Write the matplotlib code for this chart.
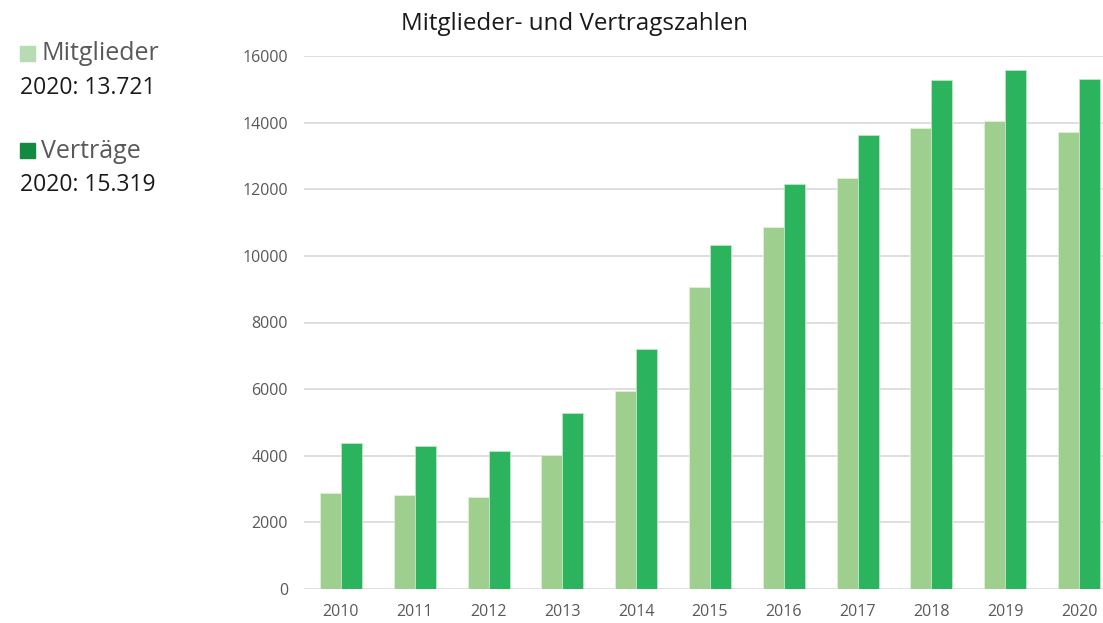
import numpy as np
import matplotlib.pyplot as plt

plt.rcParams["font.family"] = ["Open Sans", "DejaVu Sans"]

# Daten
jahre = ["2010", "2011", "2012", "2013", "2014", "2015", "2016", "2017", "2018", "2019", "2020"]
mitglieder = [2880, 2830, 2760, 4030, 5950, 9060, 10860, 12330, 13840, 14060, 13721]
vertraege = [4380, 4280, 4150, 5290, 7210, 10340, 12150, 13620, 15280, 15590, 15319]

farbe_m = "#9ecf8f"
farbe_v = "#2bb35e"
grau = "#595959"

fig = plt.figure(figsize=(11.03, 6.23), dpi=100)
ax = fig.add_axes([304 / 1103, 34 / 623, (1116 - 304) / 1103, (589 - 56) / 623])

x = np.arange(len(jahre))
b = 0.285
ax.bar(x - b / 2, mitglieder, b, color=farbe_m, edgecolor="#dff0da", linewidth=0.6, zorder=2)
ax.bar(x + b / 2, vertraege, b, color=farbe_v, edgecolor="#bfe6c9", linewidth=0.6, zorder=2)

ax.set_xlim(-0.5, len(jahre) - 0.5)
ax.set_ylim(0, 16000)
ax.set_yticks(range(0, 16001, 2000))
ax.set_xticks(x)
ax.set_xticklabels(jahre)
ax.tick_params(axis="both", length=0, labelsize=11.5, labelcolor=grau)
ax.tick_params(axis="y", pad=11.5)
ax.tick_params(axis="x", pad=11)
ax.grid(axis="y", color="#d9d9d9", linewidth=1.2, zorder=0)
for s in ax.spines.values():
    s.set_visible(False)

fig.text(575 / 1103, 1 - 24 / 623, "Mitglieder- und Vertragszahlen", ha="center", va="center",
         fontsize=17.4, color="#1a1a1a")

# Legende links
fig.patches.append(plt.Rectangle((20 / 1103, 1 - 61 / 623), 15 / 1103, 15 / 623,
                                 transform=fig.transFigure, color="#b6dbb5"))
fig.text(41 / 1103, 1 - 53 / 623, "Mitglieder", va="center", fontsize=18, color=grau)
fig.text(20 / 1103, 1 - 88 / 623, "2020: 13.721", va="center", fontsize=16.5, color="#1a1a1a")
fig.patches.append(plt.Rectangle((20 / 1103, 1 - 158 / 623), 15 / 1103, 15 / 623,
                                 transform=fig.transFigure, color="#138a40"))
fig.text(41 / 1103, 1 - 151 / 623, "Verträge", va="center", fontsize=18, color=grau)
fig.text(20 / 1103, 1 - 185 / 623, "2020: 15.319", va="center", fontsize=16.5, color="#1a1a1a")

plt.savefig("out.png")
